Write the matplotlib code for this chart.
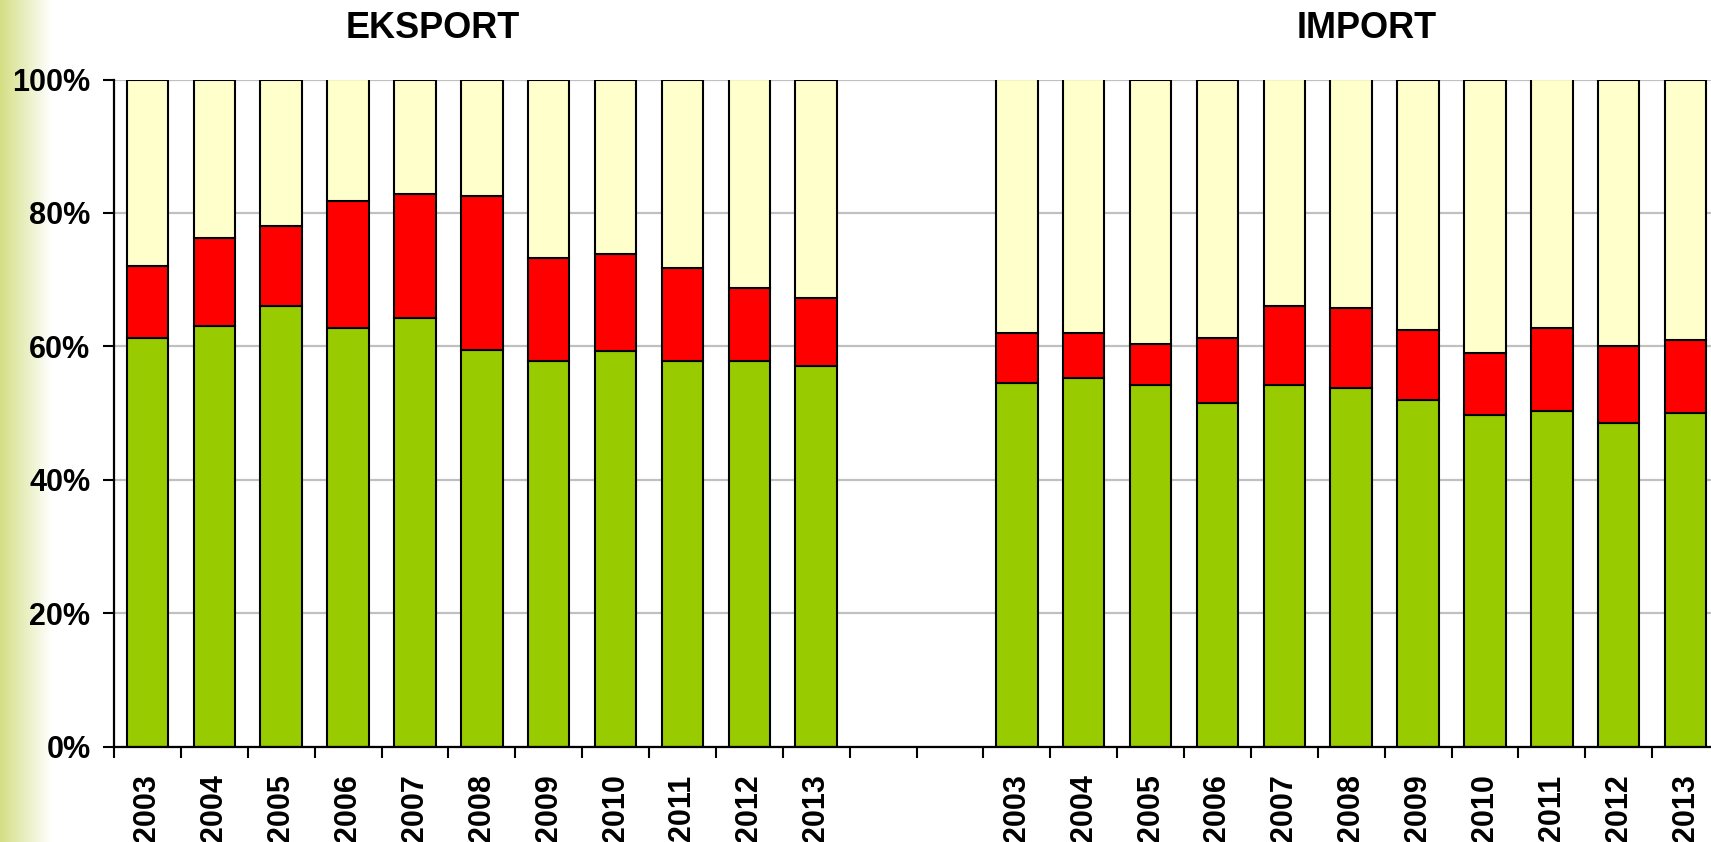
import numpy as np
from matplotlib import pyplot as plt
from matplotlib.colors import LinearSegmentedColormap

years = ['2003', '2004', '2005', '2006', '2007', '2008',
         '2009', '2010', '2011', '2012', '2013']

# shares in percent, bottom (green) and cumulative top of the red segment
export_green = [61.2, 63.1, 66.1, 62.7, 64.2, 59.4, 57.8, 59.3, 57.8, 57.8, 57.1]
export_red_top = [72.0, 76.2, 78.0, 81.8, 82.9, 82.5, 73.2, 73.9, 71.7, 68.7, 67.2]
import_green = [54.5, 55.2, 54.2, 51.5, 54.2, 53.7, 51.9, 49.7, 50.3, 48.5, 50.0]
import_red_top = [62.0, 62.0, 60.4, 61.2, 66.0, 65.7, 62.4, 59.0, 62.7, 60.1, 60.9]

gap = 2
labels = years + [''] * gap + years
green = np.array(export_green + [0] * gap + import_green)
red = np.array(export_red_top + [0] * gap + import_red_top) - green
rest = np.array([100] * len(years) + [0] * gap + [100] * len(years)) - green - red

plt.rcParams['font.family'] = 'Liberation Sans'
plt.rcParams['font.weight'] = 'bold'

fig = plt.figure(figsize=(17.11, 8.42), dpi=100)

# pale green strip on the left edge
bg = fig.add_axes([0, 0, 52 / 1711, 1], zorder=-5)
cmap = LinearSegmentedColormap.from_list('strip', ['#d4df84', '#ffffff'])
bg.imshow(np.linspace(0, 1, 100)[None, :], aspect='auto', cmap=cmap,
          extent=[0, 1, 0, 1])
bg.axis('off')

ax = fig.add_axes([114 / 1711, 95.5 / 842, 1605 / 1711, 667 / 842])
x = np.arange(len(labels))
mask = np.array([lab != '' for lab in labels])
w = 0.62
kw = dict(width=w, edgecolor='black', linewidth=1.5, zorder=3)
ax.bar(x[mask], green[mask], color='#99cc00', **kw)
ax.bar(x[mask], red[mask], bottom=green[mask], color='#ff0000', **kw)
ax.bar(x[mask], rest[mask], bottom=(green + red)[mask], color='#ffffcc', **kw)

ax.set_xlim(-0.5, len(labels) - 0.5)
ax.set_ylim(0, 100)
ax.set_yticks([0, 20, 40, 60, 80, 100])
ax.set_yticklabels(['0%', '20%', '40%', '60%', '80%', '100%'])
ax.yaxis.grid(True, color='#c0c0c0', linewidth=1.6, zorder=0)
ax.set_axisbelow(True)

ax.set_xticks(x)
ax.set_xticklabels(labels, rotation=90, va='top')
ax.set_xticks(np.arange(-0.5, len(labels)), minor=True)
ax.tick_params(axis='x', which='major', length=0, pad=20, labelsize=22)
ax.tick_params(axis='x', which='minor', length=8, width=1.5, direction='out')
ax.tick_params(axis='y', length=8, width=1.5, pad=9, labelsize=22)

for side in ['top', 'right']:
    ax.spines[side].set_visible(False)
for side in ['left', 'bottom']:
    ax.spines[side].set_linewidth(1.6)
    ax.spines[side].set_zorder(4)

fig.text(433 / 1711, 1 - 28 / 842, 'EKSPORT', ha='center', va='center',
         fontsize=26, fontweight='bold')
fig.text(1367 / 1711, 1 - 28 / 842, 'IMPORT', ha='center', va='center',
         fontsize=26, fontweight='bold')

fig.savefig('out.png', dpi=100)
